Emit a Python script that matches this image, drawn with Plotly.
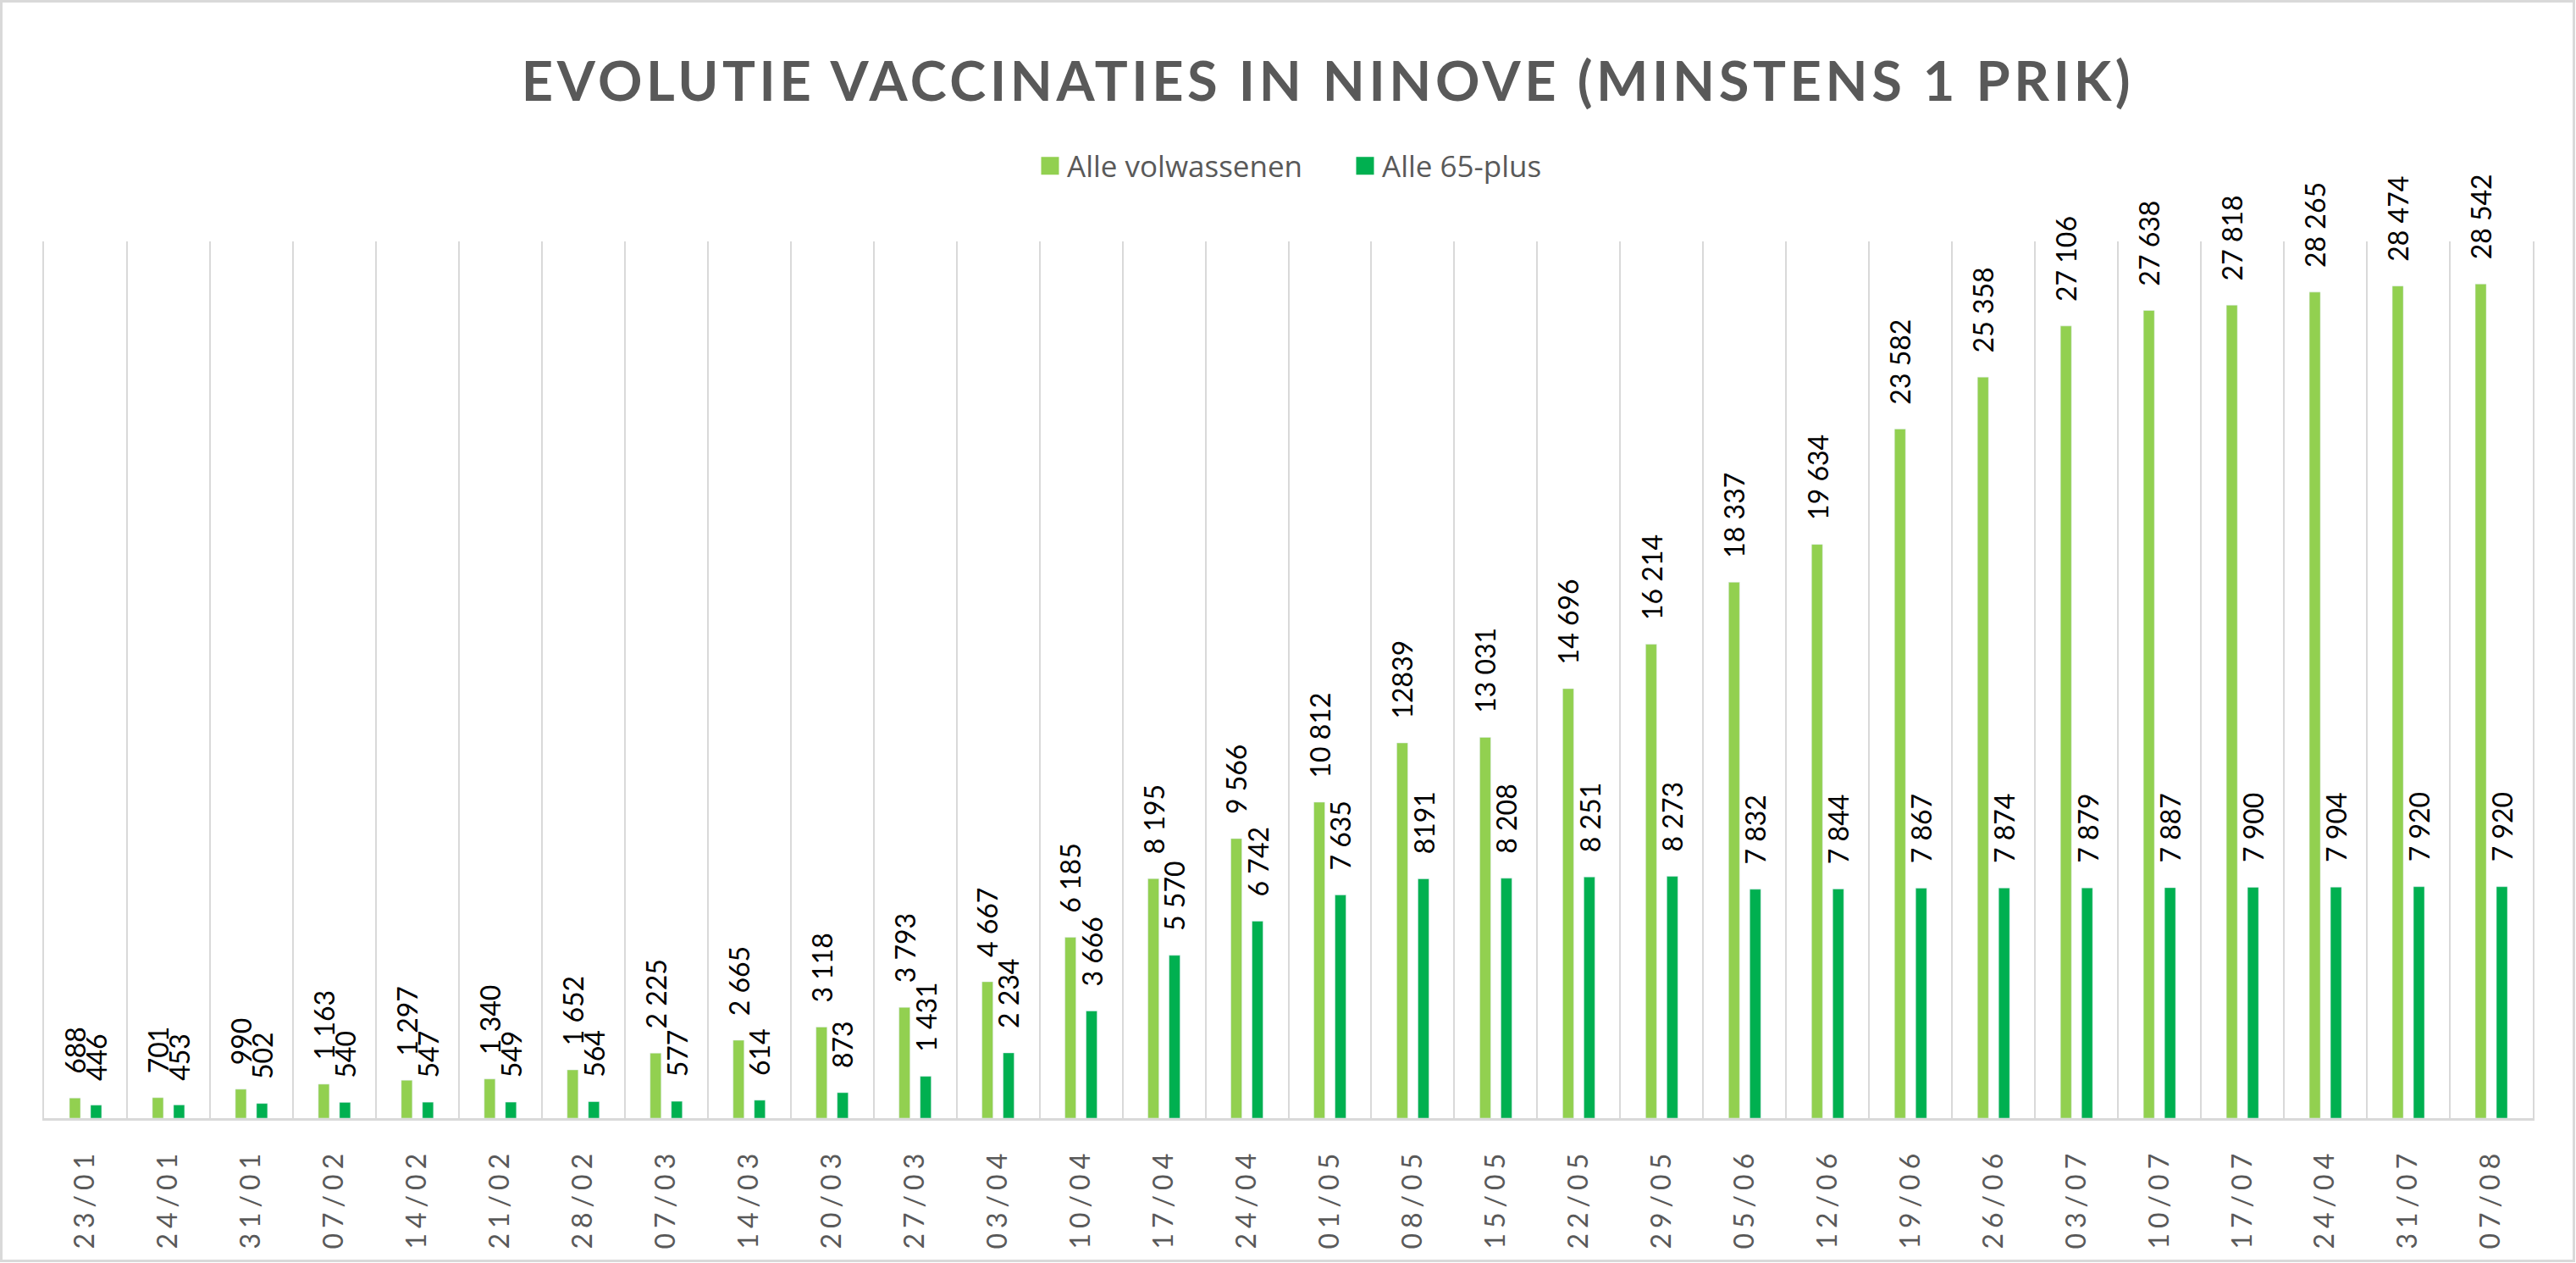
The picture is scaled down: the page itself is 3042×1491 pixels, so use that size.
import plotly.graph_objects as go

dates = ["23/01", "24/01", "31/01", "07/02", "14/02", "21/02", "28/02", "07/03", "14/03", "20/03",
         "27/03", "03/04", "10/04", "17/04", "24/04", "01/05", "08/05", "15/05", "22/05", "29/05",
         "05/06", "12/06", "19/06", "26/06", "03/07", "10/07", "17/07", "24/04", "31/07", "07/08"]

adults = [688, 701, 990, 1163, 1297, 1340, 1652, 2225, 2665, 3118,
          3793, 4667, 6185, 8195, 9566, 10812, 12839, 13031, 14696, 16214,
          18337, 19634, 23582, 25358, 27106, 27638, 27818, 28265, 28474, 28542]
adults_labels = ["688", "701", "990", "1 163", "1 297", "1 340", "1 652", "2 225", "2 665", "3 118",
                 "3 793", "4 667", "6 185", "8 195", "9 566", "10 812", "12839", "13 031", "14 696", "16 214",
                 "18 337", "19 634", "23 582", "25 358", "27 106", "27 638", "27 818", "28 265", "28 474", "28 542"]

seniors = [446, 453, 502, 540, 547, 549, 564, 577, 614, 873,
           1431, 2234, 3666, 5570, 6742, 7635, 8191, 8208, 8251, 8273,
           7832, 7844, 7867, 7874, 7879, 7887, 7900, 7904, 7920, 7920]
seniors_labels = ["446", "453", "502", "540", "547", "549", "564", "577", "614", "873",
                  "1 431", "2 234", "3 666", "5 570", "6 742", "7 635", "8191", "8 208", "8 251", "8 273",
                  "7 832", "7 844", "7 867", "7 874", "7 879", "7 887", "7 900", "7 904", "7 920", "7 920"]

series_names = ["Alle volwassenen", "Alle 65-plus"]
colors = ["#92D050", "#00B050"]

W, H = 3042, 1491
ML, MR, MT, MB = 52, 51, 285, 171
BARGAP = 0.49
BARGROUPGAP = 0.48
GRID = "#D9D9D9"

xpos = list(range(len(dates)))

fig = go.Figure()
fig.add_trace(go.Bar(x=xpos, y=adults, name=series_names[0], marker_color=colors[0],
                     showlegend=False, hoverinfo="y"))
fig.add_trace(go.Bar(x=xpos, y=seniors, name=series_names[1], marker_color=colors[1],
                     showlegend=False, hoverinfo="y"))

# legend entries
for name, col in zip(series_names, colors):
    fig.add_trace(go.Scatter(x=[None], y=[None], mode="markers", name=name,
                             marker=dict(symbol="square", size=16, color=col,
                                         line=dict(color=col, width=5))))

# data labels
half = (1 - BARGAP) / 4
annotations = []
for vals, labs, sign in ((adults, adults_labels, -1), (seniors, seniors_labels, 1)):
    for i, (v, t) in enumerate(zip(vals, labs)):
        annotations.append(dict(x=i + sign * half, y=v, xref="x", yref="y", text=t,
                                showarrow=False, textangle=-90, xanchor="center",
                                yanchor="bottom", yshift=27,
                                font=dict(family="Lato", size=32, color="#000000")))

ticktext = ["<span style='letter-spacing:6px'>%s</span>" % d for d in dates]

fig.update_layout(
    width=W, height=H,
    margin=dict(l=ML, r=MR, t=MT, b=MB),
    paper_bgcolor="white", plot_bgcolor="white",
    barmode="group", bargap=BARGAP, bargroupgap=BARGROUPGAP,
    title=dict(text="<span style='letter-spacing:4.6px'>EVOLUTIE VACCINATIES IN NINOVE (MINSTENS 1 PRIK)</span>",
               x=1568 / W, xanchor="center", xref="container",
               y=1 - 96.5 / H, yanchor="middle", yref="container",
               font=dict(family="Lato", size=65, color="#595959", weight="bold")),
    legend=dict(orientation="h", x=(1220 - ML) / (W - ML - MR), xanchor="left", y=1.086, yanchor="middle",
                font=dict(family="Open Sans", size=35, color="#595959"),
                entrywidth=327, entrywidthmode="pixels",
                bgcolor="rgba(0,0,0,0)", itemclick=False),
    xaxis=dict(range=[-0.5, len(dates) - 0.5], tickmode="array", tickvals=xpos, ticktext=ticktext,
               tickangle=-90, showgrid=False, zeroline=False, ticks="",
               ticklabelstandoff=20,
               tickfont=dict(family="Lato", size=32, color="#595959"),
               showline=True, linecolor=GRID, linewidth=3,
               minor=dict(tick0=-0.5, dtick=1, showgrid=True, gridcolor=GRID, gridwidth=2, ticks="")),
    yaxis=dict(range=[0, 30000], showgrid=False, zeroline=False, showticklabels=False, ticks="",
               showline=True, mirror=True, linecolor=GRID, linewidth=2),
    annotations=annotations,
    shapes=[dict(type="rect", xref="paper", yref="paper",
                 x0=-(ML - 1.5) / (W - ML - MR), x1=1 + (MR - 2.5) / (W - ML - MR),
                 y0=-(MB - 2.5) / (H - MT - MB), y1=1 + (MT - 1.5) / (H - MT - MB),
                 line=dict(color=GRID, width=3), layer="below")],
)

fig.write_html("out.html", config={"displayModeBar": False},
               post_script="document.body.style.margin='0';document.body.style.overflow='hidden';")
